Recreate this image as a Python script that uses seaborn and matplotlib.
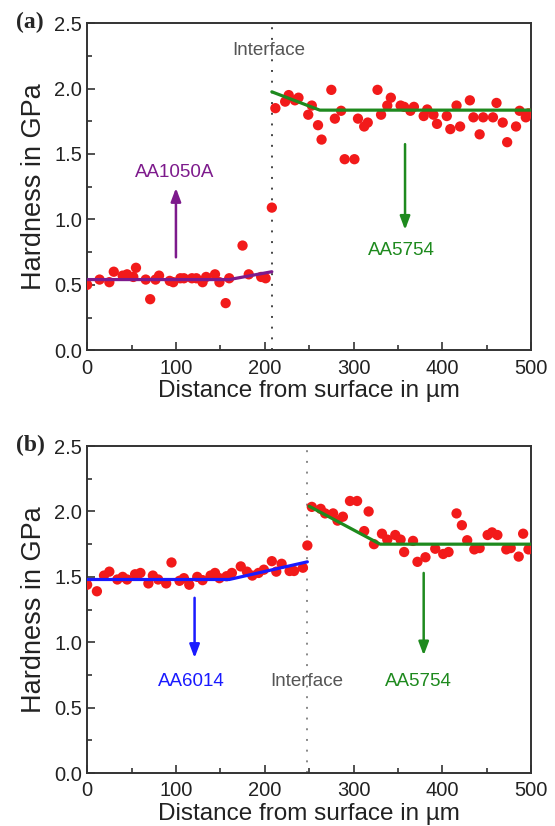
import numpy as np
import pandas as pd
import matplotlib
matplotlib.use("Agg")
import matplotlib.pyplot as plt
import seaborn as sns

# --- panel (a): AA1050A / AA5754 ---
dist_a = [0, 14, 25, 30, 40, 45, 52, 55, 66, 71, 77, 81, 93, 97, 105, 109, 118, 123,
          130, 134, 144, 149, 156, 160, 175, 182, 196, 201, 208,
          212, 223, 227, 234, 238, 249, 253, 260, 264, 275, 279, 286, 290, 301, 305,
          312, 316, 327, 331, 338, 342, 353, 357, 364, 368, 379, 383, 390, 394, 405,
          409, 416, 420, 431, 435, 442, 446, 457, 461, 468, 473, 483, 487, 494, 497]
hard_a = [0.50, 0.54, 0.52, 0.60, 0.57, 0.58, 0.56, 0.63, 0.54, 0.39, 0.54, 0.57, 0.53,
          0.52, 0.55, 0.55, 0.55, 0.55, 0.52, 0.56, 0.58, 0.52, 0.36, 0.55, 0.80, 0.58,
          0.56, 0.55, 1.09,
          1.85, 1.90, 1.95, 1.91, 1.93, 1.80, 1.87, 1.72, 1.61, 1.99, 1.77, 1.83, 1.46,
          1.46, 1.77, 1.71, 1.74, 1.99, 1.80, 1.87, 1.93, 1.87, 1.86, 1.83, 1.86, 1.79,
          1.84, 1.80, 1.73, 1.79, 1.69, 1.87, 1.71, 1.91, 1.78, 1.65, 1.78, 1.78, 1.89,
          1.74, 1.59, 1.71, 1.83, 1.78, 1.81]
fit_a1050_x = [0, 160, 208]
fit_a1050_y = [0.54, 0.54, 0.60]
fit_a5754_x = [208, 262, 500]
fit_a5754_y = [1.975, 1.835, 1.835]
interface_a = 208

# --- panel (b): AA6014 / AA5754 ---
dist_b = [0, 11, 19, 25, 34, 40, 45, 54, 60, 69, 74, 80, 89, 95, 104, 109, 115, 124,
          130, 139, 144, 149, 157, 163, 173, 180, 186, 193, 199, 208, 213, 219, 228,
          233, 243, 248,
          253, 263, 268, 277, 282, 288, 296, 304, 312, 317, 323, 332, 338, 347, 353,
          357, 367, 372, 381, 392, 401, 407, 416, 422, 428, 436, 442, 451, 456, 462,
          472, 477, 486, 491, 497]
hard_b = [1.44, 1.39, 1.51, 1.54, 1.48, 1.50, 1.48, 1.52, 1.53, 1.45, 1.51, 1.48, 1.45,
          1.61, 1.47, 1.49, 1.44, 1.50, 1.475, 1.51, 1.53, 1.49, 1.505, 1.53, 1.58, 1.54,
          1.51, 1.53, 1.555, 1.62, 1.54, 1.60, 1.545, 1.545, 1.57, 1.74,
          2.035, 2.02, 1.985, 1.985, 1.93, 1.96, 2.08, 2.08, 1.85, 2.00, 1.75, 1.83,
          1.785, 1.82, 1.785, 1.69, 1.775, 1.615, 1.65, 1.715, 1.675, 1.69, 1.985, 1.895,
          1.78, 1.71, 1.72, 1.82, 1.84, 1.82, 1.71, 1.72, 1.655, 1.83, 1.71]
fit_b6014_x = [0, 160, 248]
fit_b6014_y = [1.48, 1.48, 1.615]
fit_b5754_x = [250, 330, 500]
fit_b5754_y = [2.04, 1.75, 1.75]
interface_b = 248

x_ticks = [0, 100, 200, 300, 400, 500]
y_ticks = [0.0, 0.5, 1.0, 1.5, 2.0, 2.5]

PURPLE = "#7d1a8c"
GREEN = "#1e8a1e"
BLUE = "#1a1aff"
DOT = "#f21a1a"

sns.set_style("ticks")
plt.rcParams["font.family"] = ["Liberation Sans", "DejaVu Sans"]

fig = plt.figure(figsize=(5.55, 8.26), dpi=100)
ax1 = fig.add_axes([0.157, 0.576, 0.800, 0.396])
ax2 = fig.add_axes([0.157, 0.064, 0.800, 0.396])


def style_axis(ax):
    ax.set_xlim(0, 500)
    ax.set_ylim(0, 2.5)
    ax.set_xticks(x_ticks)
    ax.set_yticks(y_ticks)
    ax.set_xticks(np.arange(50, 500, 100), minor=True)
    ax.set_yticks(np.arange(0.25, 2.5, 0.5), minor=True)
    ax.set_yticklabels([f"{v:.1f}" for v in y_ticks])
    ax.tick_params(which="both", direction="in", colors="#333333", labelcolor="#222222",
                   labelsize=14.5, width=1.2)
    ax.tick_params(which="major", length=6)
    ax.tick_params(which="minor", length=3.5)
    ax.tick_params(axis="x", pad=6)
    for s in ax.spines.values():
        s.set_visible(True)
        s.set_color("#333333")
        s.set_linewidth(1.4)
    ax.set_xlabel("Distance from surface in µm", fontsize=17.5, color="#222222", labelpad=2)
    ax.set_ylabel("Hardness in GPa", fontsize=19.5, color="#222222", labelpad=5)


def arrow(ax, x, y0, y1, color):
    ax.annotate("", xy=(x, y1), xytext=(x, y0),
                arrowprops=dict(arrowstyle="-|>,head_length=0.8,head_width=0.3",
                                color=color, lw=1.8, shrinkA=0, shrinkB=0))


# panel (a)
sns.scatterplot(x=dist_a, y=hard_a, ax=ax1, color=DOT, s=55, edgecolor="none", zorder=3)
sns.lineplot(x=fit_a1050_x, y=fit_a1050_y, ax=ax1, color=PURPLE, lw=2.3, zorder=4)
sns.lineplot(x=fit_a5754_x, y=fit_a5754_y, ax=ax1, color=GREEN, lw=2.3, zorder=4)
ax1.axvline(interface_a, color="#444444", ls=(0, (1, 4.5)), lw=1.4, zorder=1)
ax1.text(204, 2.29, "Interface", ha="center", va="center", fontsize=13.5, color="#555555")
ax1.text(99, 1.36, "AA1050A", ha="center", va="center", fontsize=13.5, color=PURPLE)
arrow(ax1, 100, 0.71, 1.24, PURPLE)
ax1.text(354, 0.765, "AA5754", ha="center", va="center", fontsize=13.5, color=GREEN)
arrow(ax1, 358, 1.575, 0.92, GREEN)
style_axis(ax1)

# panel (b)
sns.scatterplot(x=dist_b, y=hard_b, ax=ax2, color=DOT, s=55, edgecolor="none", zorder=3)
sns.lineplot(x=fit_b6014_x, y=fit_b6014_y, ax=ax2, color=BLUE, lw=2.3, zorder=4)
sns.lineplot(x=fit_b5754_x, y=fit_b5754_y, ax=ax2, color=GREEN, lw=2.3, zorder=4)
ax2.axvline(interface_b, color="#888888", ls=(0, (1, 4.5)), lw=1.4, zorder=1)
ax2.text(247, 0.70, "Interface", ha="center", va="center", fontsize=13.5, color="#555555")
ax2.text(117, 0.70, "AA6014", ha="center", va="center", fontsize=13.5, color=BLUE)
arrow(ax2, 121, 1.34, 0.88, BLUE)
ax2.text(373, 0.70, "AA5754", ha="center", va="center", fontsize=13.5, color=GREEN)
arrow(ax2, 379, 1.53, 0.90, GREEN)
style_axis(ax2)

fig.text(0.029, 0.973, "(a)", fontsize=17, fontweight="bold", family="Liberation Serif",
         va="center", ha="left")
fig.text(0.029, 0.461, "(b)", fontsize=17, fontweight="bold", family="Liberation Serif",
         va="center", ha="left")

fig.savefig("out.png", dpi=100)
